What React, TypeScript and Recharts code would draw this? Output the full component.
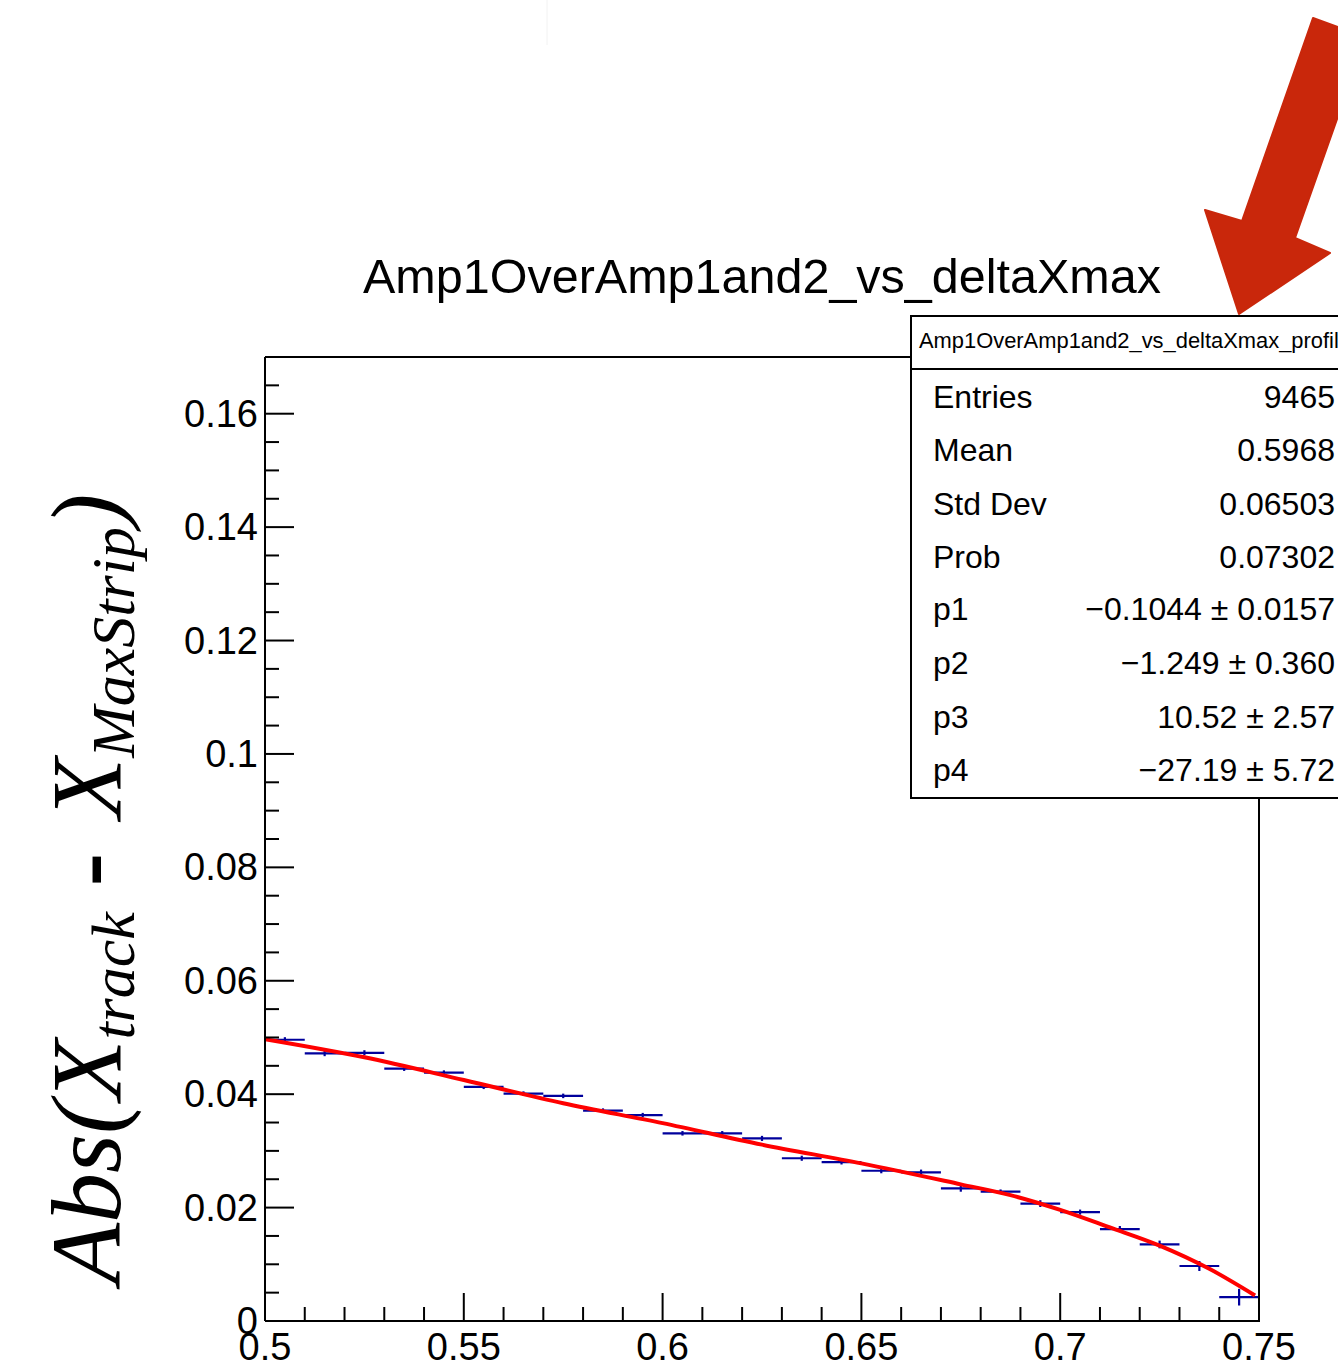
import React from "react";
import {
  ComposedChart,
  XAxis,
  YAxis,
  Scatter,
  Line,
  ErrorBar,
} from "recharts";

// ---- data ----
const binCenters = [
  0.505, 0.515, 0.525, 0.535, 0.545, 0.555, 0.565, 0.575, 0.585, 0.595,
  0.605, 0.615, 0.625, 0.635, 0.645, 0.655, 0.665, 0.675, 0.685, 0.695,
  0.705, 0.715, 0.725, 0.735, 0.745,
];
const profileMeans = [
  0.0496, 0.0472, 0.0473, 0.0445, 0.0438, 0.0413, 0.0401, 0.0397, 0.0371, 0.0363,
  0.0331, 0.0331, 0.0322, 0.0287, 0.028, 0.0265, 0.0262, 0.0234, 0.0228, 0.0207,
  0.0192, 0.0162, 0.0135, 0.0097, 0.0042,
];
const profileErrors = [
  0.00045, 0.0005, 0.00045, 0.0004, 0.0004, 0.0004, 0.0004, 0.0004, 0.0004, 0.0004,
  0.0004, 0.0004, 0.00045, 0.00045, 0.0004, 0.00045, 0.0005, 0.0006, 0.0004, 0.0006,
  0.00045, 0.00055, 0.00068, 0.00088, 0.00147,
];
const binHalfWidth = 0.005;

const fitX = [0.5, 0.525, 0.55, 0.575, 0.6, 0.625, 0.65, 0.675, 0.6875, 0.7, 0.7125, 0.725, 0.7375, 0.749];
const fitY = [0.0497, 0.0465, 0.0425, 0.0384, 0.0349, 0.0311, 0.0278, 0.0241, 0.0222, 0.0196, 0.0165, 0.0133, 0.0092, 0.0045];

const xMajorTicks = [0.5, 0.55, 0.6, 0.65, 0.7, 0.75];
const xMinorTicks = [
  0.51, 0.52, 0.53, 0.54, 0.56, 0.57, 0.58, 0.59, 0.61, 0.62, 0.63, 0.64,
  0.66, 0.67, 0.68, 0.69, 0.71, 0.72, 0.73, 0.74,
];
const xTickLabels = ["0.5", "0.55", "0.6", "0.65", "0.7", "0.75"];

const yMajorTicks = [0, 0.02, 0.04, 0.06, 0.08, 0.1, 0.12, 0.14, 0.16];
const yMinorTicks = [
  0.005, 0.01, 0.015, 0.025, 0.03, 0.035, 0.045, 0.05, 0.055, 0.065, 0.07, 0.075,
  0.085, 0.09, 0.095, 0.105, 0.11, 0.115, 0.125, 0.13, 0.135, 0.145, 0.15, 0.155, 0.165,
];
const yTickLabels = ["0", "0.02", "0.04", "0.06", "0.08", "0.1", "0.12", "0.14", "0.16"];

const titleText = "Amp1OverAmp1and2_vs_deltaXmax";
const statsName = "Amp1OverAmp1and2_vs_deltaXmax_profile";
const statsLabels = ["Entries", "Mean", "Std Dev", "Prob", "p1", "p2", "p3", "p4"];
const statsValues = [
  "9465",
  "0.5968",
  "0.06503",
  "0.07302",
  "\u22120.1044 \u00b1 0.0157",
  "\u22121.249 \u00b1 0.360",
  "10.52 \u00b1 2.57",
  "\u221227.19 \u00b1 5.72",
];

// ---- built tables ----
const profileData = binCenters.map((x, i) => ({
  x,
  y: profileMeans[i],
  ex: binHalfWidth,
  ey: profileErrors[i],
}));
const fitData = fitX.map((x, i) => ({ x, y: fitY[i] }));

const SANS = "'Liberation Sans', Arial, Helvetica, sans-serif";
const SERIF = "'Liberation Serif', 'Times New Roman', serif";

const W = 1338;
const H = 1367;
const PLOT_LEFT = 265;
const PLOT_RIGHT = 1259;
const PLOT_TOP = 357;
const PLOT_BOTTOM = 1321;

const near = (a: number, b: number) => Math.abs(a - b) < 1e-6;

const YTick = (props: any) => {
  const { y, payload } = props;
  const v = payload.value as number;
  const mi = yMajorTicks.findIndex((t) => near(t, v));
  const major = mi >= 0;
  return (
    <g>
      <line x1={PLOT_LEFT} x2={PLOT_LEFT + (major ? 29 : 14)} y1={y} y2={y} stroke="#000" strokeWidth={2} />
      {major && (
        <text x={258} y={y + 13} textAnchor="end" fontFamily={SANS} fontSize={38} fill="#000">
          {yTickLabels[mi]}
        </text>
      )}
    </g>
  );
};

const XTick = (props: any) => {
  const { x, payload } = props;
  const v = payload.value as number;
  const mi = xMajorTicks.findIndex((t) => near(t, v));
  const major = mi >= 0;
  return (
    <g>
      <line x1={x} x2={x} y1={PLOT_BOTTOM} y2={PLOT_BOTTOM - (major ? 28 : 14)} stroke="#000" strokeWidth={2} />
      {major && (
        <text x={x} y={1360} textAnchor="middle" fontFamily={SANS} fontSize={38} fill="#000">
          {xTickLabels[mi]}
        </text>
      )}
    </g>
  );
};

const NoShape = () => <g />;

export default function App() {
  const rowBase = [408, 461, 515, 568, 620, 674, 728, 781];
  return (
    <div style={{ position: "fixed", left: 0, top: 0, width: W, height: H, background: "#fff", overflow: "hidden" }}>
      <ComposedChart
        width={W}
        height={H}
        margin={{ top: PLOT_TOP, right: W - PLOT_RIGHT, bottom: 0, left: 0 }}
        style={{ position: "absolute", left: 0, top: 0 }}
      >
        <XAxis
          type="number"
          dataKey="x"
          domain={[0.5, 0.75]}
          ticks={[...xMajorTicks, ...xMinorTicks].sort((a, b) => a - b)}
          interval={0}
          height={H - PLOT_BOTTOM}
          axisLine={{ stroke: "#000", strokeWidth: 2 }}
          tickLine={false}
          tick={<XTick />}
          allowDataOverflow
        />
        <YAxis
          type="number"
          domain={[0, 0.17]}
          ticks={[...yMajorTicks, ...yMinorTicks].sort((a, b) => a - b)}
          interval={0}
          width={PLOT_LEFT}
          axisLine={{ stroke: "#000", strokeWidth: 2 }}
          tickLine={false}
          tick={<YTick />}
          allowDataOverflow
        />
        <Scatter data={profileData} dataKey="y" shape={<NoShape />} isAnimationActive={false}>
          <ErrorBar dataKey="ex" direction="x" width={0} stroke="#00009c" strokeWidth={2.2} isAnimationActive={false} />
          <ErrorBar dataKey="ey" direction="y" width={0} stroke="#00009c" strokeWidth={2.2} isAnimationActive={false} />
        </Scatter>
        <Line
          data={fitData}
          dataKey="y"
          type="monotone"
          stroke="#ff0000"
          strokeWidth={4}
          dot={false}
          activeDot={false}
          isAnimationActive={false}
        />
      </ComposedChart>

      <svg width={W} height={H} style={{ position: "absolute", left: 0, top: 0, pointerEvents: "none" }}>
        {/* faint line at top */}
        <line x1={547} x2={547} y1={0} y2={45} stroke="#f2f2f2" strokeWidth={1} />
        {/* frame: top and right */}
        <line x1={PLOT_LEFT} x2={PLOT_RIGHT + 1} y1={PLOT_TOP} y2={PLOT_TOP} stroke="#000" strokeWidth={2} />
        <line x1={PLOT_RIGHT} x2={PLOT_RIGHT} y1={PLOT_TOP} y2={PLOT_BOTTOM + 1} stroke="#000" strokeWidth={2} />

        {/* title */}
        <text x={762} y={293} textAnchor="middle" fontFamily={SANS} fontSize={48.5} fill="#000">
          {titleText}
        </text>

        {/* y axis title */}
        <g transform="translate(120,1284) rotate(-90)">
          <text x={0} y={0} fontFamily={SERIF} fontStyle="italic" fontSize={100} fill="#000">
            Abs(X
            <tspan fontSize={62} dy={14}>track</tspan>
            <tspan fontSize={100} dy={-14} dx={26} fontStyle="normal" fontWeight="bold">-</tspan>
            <tspan fontSize={100} dx={34}>X</tspan>
            <tspan fontSize={62} dy={14}>MaxStrip</tspan>
            <tspan fontSize={100} dy={-14}>)</tspan>
          </text>
        </g>

        {/* stats box */}
        <rect x={911} y={316} width={520} height={482} fill="#fff" stroke="#000" strokeWidth={2} />
        <line x1={911} x2={W} y1={369} y2={369} stroke="#000" strokeWidth={2} />
        <text x={919} y={348} fontFamily={SANS} fontSize={21.9} fill="#000">
          {statsName}
        </text>
        {statsLabels.map((l, i) => (
          <text key={l} x={933} y={rowBase[i]} fontFamily={SANS} fontSize={32} fill="#000">
            {l}
          </text>
        ))}
        {statsValues.map((v, i) => (
          <text key={i} x={1335} y={rowBase[i]} textAnchor="end" fontFamily={SANS} fontSize={32} fill="#000">
            {v}
          </text>
        ))}

        {/* red arrow annotation */}
        <polygon
          points="1313,18 1366,37 1295,238 1330,253 1239,314 1205,210 1242,221"
          fill="#C9270B"
          stroke="#C9270B"
          strokeWidth={2}
          strokeLinejoin="round"
        />
      </svg>
    </div>
  );
}
